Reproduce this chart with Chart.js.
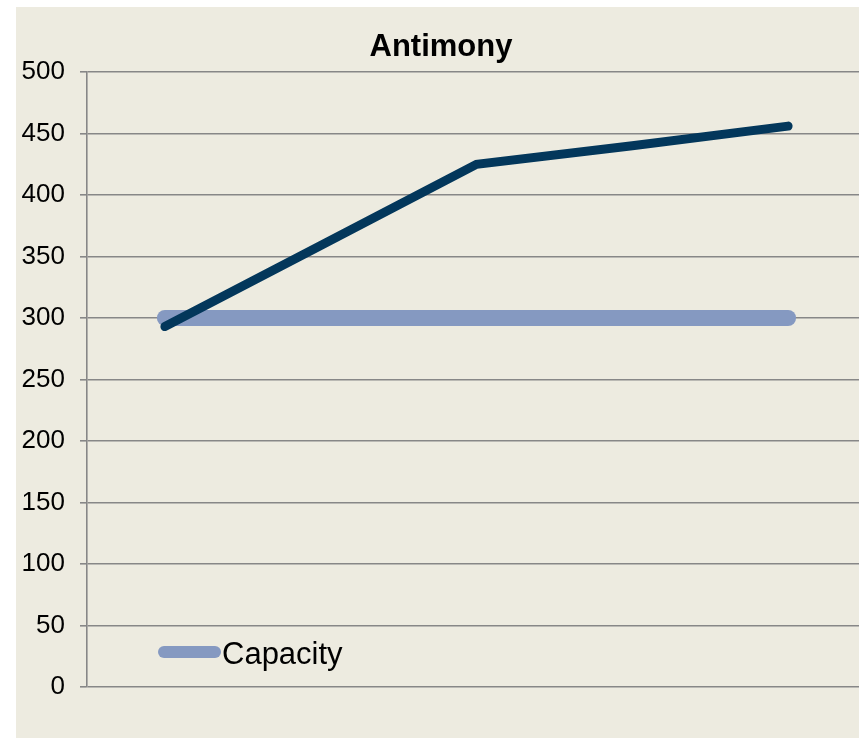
<!DOCTYPE html>
<html>
<head>
<meta charset="utf-8">
<script src="https://cdn.jsdelivr.net/npm/chart.js@4.4.0/dist/chart.umd.min.js"></script>
<style>
  html, body { margin: 0; padding: 0; background: #ffffff; overflow: hidden; width: 859px; height: 738px; }
  #wrap { position: absolute; left: 16px; top: 7px; width: 850px; height: 731px; background: #EDEBE0; }
</style>
</head>
<body>
<div id="wrap"><canvas id="c"></canvas></div>
<script>
const chartTitle = 'Antimony';
const categories = ['1', '2', '3', '4', '5'];
const productionLabel = 'Production';
const productionValues = [293, 359, 425, 440, 456];
const capacityLabel = 'Capacity';
const capacityValues = [300, 300, 300, 300, 300];
const yMin = 0, yMax = 500, yStep = 50;

const FONT = "'Liberation Sans', Arial, sans-serif";

const insideLegend = {
  id: 'insideLegend',
  afterDatasetsDraw(chart) {
    const ctx = chart.ctx;
    const a = chart.chartArea;
    const ds = chart.data.datasets[1];
    ctx.save();
    ctx.strokeStyle = ds.borderColor;
    ctx.lineWidth = 12;
    ctx.lineCap = 'round';
    ctx.beginPath();
    ctx.moveTo(a.left + 77, a.bottom - 35);
    ctx.lineTo(a.left + 128, a.bottom - 35);
    ctx.stroke();
    ctx.fillStyle = '#000';
    ctx.font = '31px ' + FONT;
    ctx.textBaseline = 'alphabetic';
    ctx.textAlign = 'left';
    ctx.fillText(ds.label, a.left + 135, a.bottom - 23);
    ctx.restore();
  }
};

new Chart(document.getElementById('c'), {
  type: 'line',
  data: {
    labels: categories,
    datasets: [
      {
        label: productionLabel,
        data: productionValues,
        borderColor: '#03375B',
        borderWidth: 9,
        borderCapStyle: 'round',
        pointRadius: 0,
        tension: 0,
        fill: false
      },
      {
        label: capacityLabel,
        data: capacityValues,
        borderColor: '#8599C1',
        borderWidth: 16,
        borderCapStyle: 'round',
        pointRadius: 0,
        tension: 0,
        fill: false
      }
    ]
  },
  options: {
    responsive: true,
    maintainAspectRatio: false,
    animation: false,
    layout: { padding: { left: 0, right: 0, top: 0, bottom: 51 } },
    plugins: {
      legend: { display: false },
      tooltip: { enabled: false },
      title: {
        display: true,
        text: chartTitle,
        color: '#000',
        font: { family: FONT, size: 31, weight: 'bold', lineHeight: 1.2 },
        padding: { top: 22, bottom: 5.8 }
      }
    },
    scales: {
      x: {
        type: 'category',
        display: false,
        offset: true
      },
      y: {
        min: yMin,
        max: yMax,
        afterFit(s) { s.width = 71; },
        ticks: {
          stepSize: yStep,
          color: '#000',
          padding: 15,
          font: { family: FONT, size: 26 }
        },
        grid: {
          color: '#878787',
          lineWidth: 1.6,
          tickLength: 7,
          drawTicks: true
        },
        border: { display: true, color: '#878787', width: 1.6 }
      }
    }
  },
  plugins: [insideLegend]
});
</script>
</body>
</html>
